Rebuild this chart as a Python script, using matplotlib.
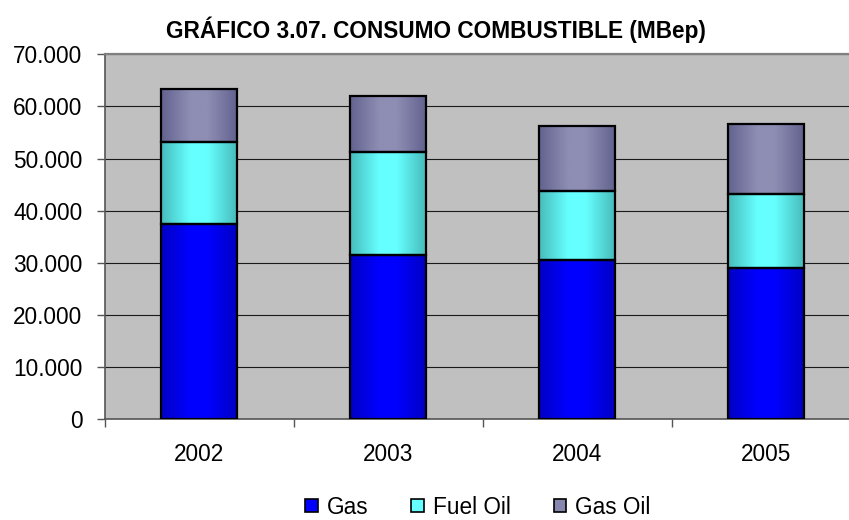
import matplotlib
matplotlib.use("Agg")
import matplotlib.pyplot as plt
import numpy as np
from matplotlib.patches import Patch
from matplotlib.ticker import FuncFormatter, FixedLocator
from matplotlib.colors import to_rgb

plt.rcParams['font.family'] = ['Liberation Sans', 'DejaVu Sans']

years = ["2002", "2003", "2004", "2005"]
gas = [37500, 31500, 30600, 29100]
fuel_oil = [15600, 19800, 13200, 14100]
gas_oil = [10200, 10700, 12500, 13400]
series_names = ["Gas", "Fuel Oil", "Gas Oil"]
center_colors = ["#0000FF", "#66FFFF", "#8E8EB4"]
edge_colors = ["#0000C4", "#48BBBB", "#62628F"]

FS = 16.3

fig = plt.figure(figsize=(8.49, 5.20), dpi=100)
ax = fig.add_axes([104.7/849, 1-419.3/520, 756/849, 365/520])
ax.set_facecolor("#C0C0C0")

x = np.arange(len(years))
width = 0.40
bottoms = np.zeros(len(years))

for vals, cc, ec in zip([gas, fuel_oil, gas_oil], center_colors, edge_colors):
    bars = ax.bar(x, vals, width, bottom=bottoms, color=cc, edgecolor="black",
                  linewidth=1.6, zorder=3)
    c1 = np.array(to_rgb(ec)); c2 = np.array(to_rgb(cc))
    t = np.linspace(0, 1, 200)
    prof = 1 - np.abs(2*t - 1)
    prof = np.clip(prof*1.3, 0, 1)
    grad = c1[None, :] + (c2 - c1)[None, :] * prof[:, None]
    img = grad[None, :, :]
    for b in bars:
        x0, y0 = b.get_x(), b.get_y()
        w, h = b.get_width(), b.get_height()
        im = ax.imshow(img, extent=[x0, x0 + w, y0, y0 + h], aspect='auto',
                       zorder=3.5, interpolation='bilinear')
        im.set_clip_path(b)
        b.set_facecolor("none")
        b.set_zorder(4)
    bottoms += np.array(vals)

ax.set_xlim(-0.5, len(years) - 0.5)
ax.set_ylim(0, 70000)
ax.set_yticks(np.arange(0, 70001, 10000))
ax.yaxis.set_major_formatter(FuncFormatter(lambda v, p: "0" if v == 0 else f"{int(v):,}".replace(",", ".")))
ax.yaxis.grid(True, color="#1a1a1a", linewidth=0.8, zorder=1)
ax.set_axisbelow(True)

ax.set_xticks(x)
ax.set_xticklabels(years)
ax.xaxis.set_minor_locator(FixedLocator(np.arange(-0.5, len(years), 1.0)))
ax.tick_params(axis='x', which='major', length=0, pad=17, labelsize=FS)
ax.tick_params(axis='x', which='minor', length=6, width=1, color="#555555", direction='out')
ax.tick_params(axis='y', length=6, width=1, color="#555555", pad=10, labelsize=FS)

for s in ["left", "bottom"]:
    ax.spines[s].set_color("#555555")
    ax.spines[s].set_linewidth(1.2)
ax.spines["top"].set_color("#808080")
ax.spines["top"].set_linewidth(1.6)
ax.spines["right"].set_visible(False)

fig.text(436/849, 1-30/520, "GRÁFICO 3.07. CONSUMO COMBUSTIBLE (MBep)", ha="center", va="center",
         fontsize=FS, fontweight="bold")

handles = [Patch(facecolor=c, edgecolor="black", linewidth=1.2) for c in
           ["#0000FF", "#66FFFF", "#8686AE"]]
fig.legend(handles, series_names, loc="center", bbox_to_anchor=(478/849, 1-507/520), ncol=3,
           frameon=False, fontsize=FS, handlelength=0.55, handleheight=0.55,
           handletextpad=0.4, columnspacing=1.9, borderpad=0)

fig.savefig("out.png", dpi=100)
